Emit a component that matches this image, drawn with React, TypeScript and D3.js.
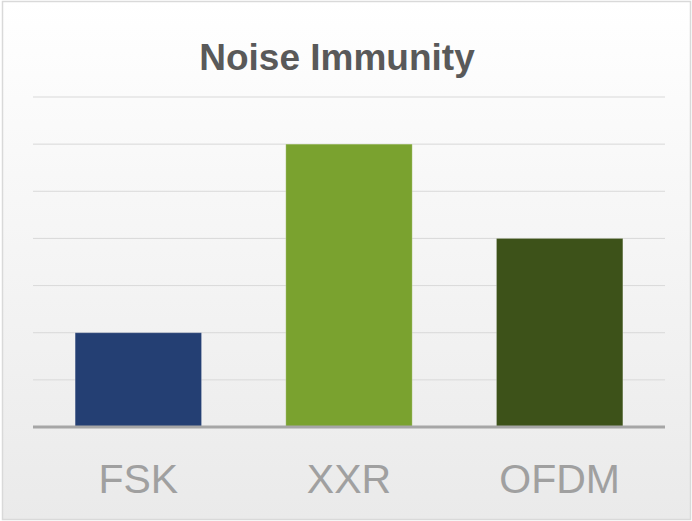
import React from 'react';
import * as d3 from 'd3';

const categories = ['FSK', 'XXR', 'OFDM'];
const values = [2, 6, 4];
const barColors = ['#243f73', '#7aa22f', '#3d5219'];
const yTicks = [0, 1, 2, 3, 4, 5, 6, 7];

const W = 692;
const H = 521;
const plot = { left: 33, right: 665, top: 97, bottom: 427 };

export default function App() {
  const x = d3.scaleBand<string>()
    .domain(categories)
    .range([plot.left, plot.right])
    .paddingInner(0.4)
    .paddingOuter(0.2);
  const y = d3.scaleLinear().domain([0, 7]).range([plot.bottom, plot.top]);

  return (
    <div style={{ position: 'absolute', left: 0, top: 0 }}>
      <svg width={W} height={H} style={{ display: 'block', fontFamily: 'Liberation Sans, Arial, sans-serif' }}>
        <defs>
          <linearGradient id="bg" x1="0" y1="0" x2="0" y2="1">
            <stop offset="0" stopColor="#ffffff" />
            <stop offset="1" stopColor="#eaeaea" />
          </linearGradient>
        </defs>
        <rect x={2.5} y={1.5} width={W - 4} height={H - 3} fill="url(#bg)" stroke="#d9d9d9" strokeWidth={1.5} />

        <text x={337} y={70} textAnchor="middle" fontSize={37} fontWeight="bold" fill="#595959">
          Noise Immunity
        </text>

        {yTicks.slice(1).map(t => (
          <line key={t} x1={plot.left} x2={plot.right} y1={y(t)} y2={y(t)} stroke="#d9d9d9" strokeWidth={1} />
        ))}

        {categories.map((c, i) => (
          <rect
            key={c}
            x={x(c)}
            y={y(values[i])}
            width={x.bandwidth()}
            height={y(0) - y(values[i])}
            fill={barColors[i]}
            stroke="#ffffff"
            strokeOpacity={0.25}
            strokeWidth={1}
          />
        ))}

        <line x1={plot.left} x2={plot.right} y1={plot.bottom} y2={plot.bottom} stroke="#a6a6a6" strokeWidth={3} />

        {categories.map(c => (
          <text key={c} x={(x(c) ?? 0) + x.bandwidth() / 2} y={493} textAnchor="middle" fontSize={41} fill="#a0a0a0">
            {c}
          </text>
        ))}
      </svg>
    </div>
  );
}
